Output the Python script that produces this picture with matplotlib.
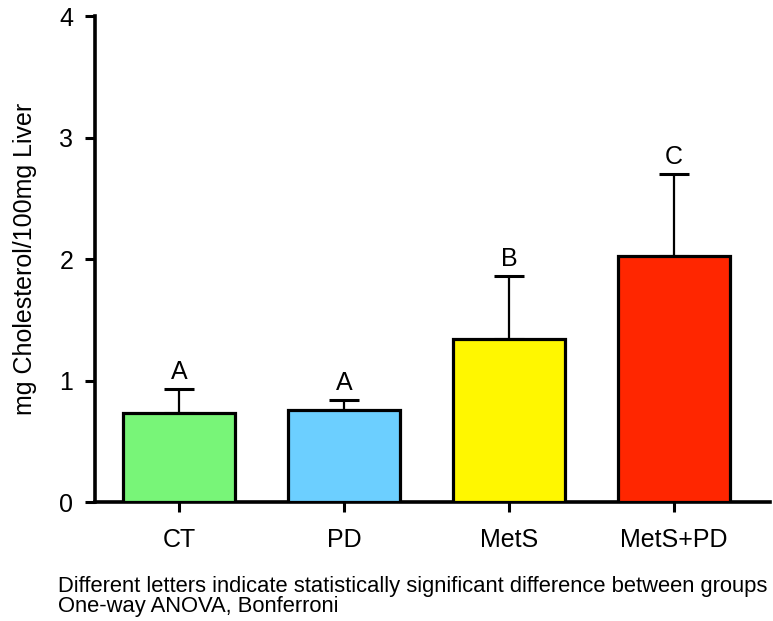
import matplotlib.pyplot as plt

plt.rcParams['font.family'] = ['Liberation Sans', 'DejaVu Sans']

groups = ['CT', 'PD', 'MetS', 'MetS+PD']
means = [0.73, 0.76, 1.34, 2.03]
errors = [0.20, 0.08, 0.52, 0.67]
letters = ['A', 'A', 'B', 'C']
colors = ['#78F578', '#6CCFFF', '#FFF700', '#FF2600']

fig = plt.figure(figsize=(7.73, 6.21), dpi=100)
ax = fig.add_axes([0.1229, 0.1916, 0.873, 0.782])

x = list(range(len(groups)))
ax.bar(x, means, width=0.68, color=colors, edgecolor='black', linewidth=2.3, zorder=3)
# upper error bars only
ax.errorbar(x, means, yerr=[[0] * len(errors), errors], fmt='none', ecolor='black',
            elinewidth=1.6, capsize=11, capthick=2.2, zorder=2)

for xi, m, e, lab in zip(x, means, errors, letters):
    ax.annotate(lab, (xi, m + e), xytext=(0, 7), textcoords='offset points',
                ha='center', va='baseline', fontsize=18)

ax.set_xlim(-0.51, 3.58)
ax.set_ylim(0, 4)
ax.set_yticks([0, 1, 2, 3, 4])
ax.set_xticks(x)
ax.set_xticklabels(groups)
ax.tick_params(axis='both', width=2.2, length=7.5, labelsize=18)
ax.tick_params(axis='x', pad=11)
ax.tick_params(axis='y', pad=8)

for s in ['top', 'right']:
    ax.spines[s].set_visible(False)
for s in ['left', 'bottom']:
    ax.spines[s].set_linewidth(2.6)

ax.set_ylabel('mg Cholesterol/100mg Liver', fontsize=18, labelpad=16)

fig.text(0.075, 1 - 592 / 621, 'Different letters indicate statistically significant difference between groups',
         fontsize=15.8, ha='left', va='baseline')
fig.text(0.075, 1 - 612 / 621, 'One-way ANOVA, Bonferroni',
         fontsize=15.8, ha='left', va='baseline')

fig.savefig('out.png', dpi=100)
